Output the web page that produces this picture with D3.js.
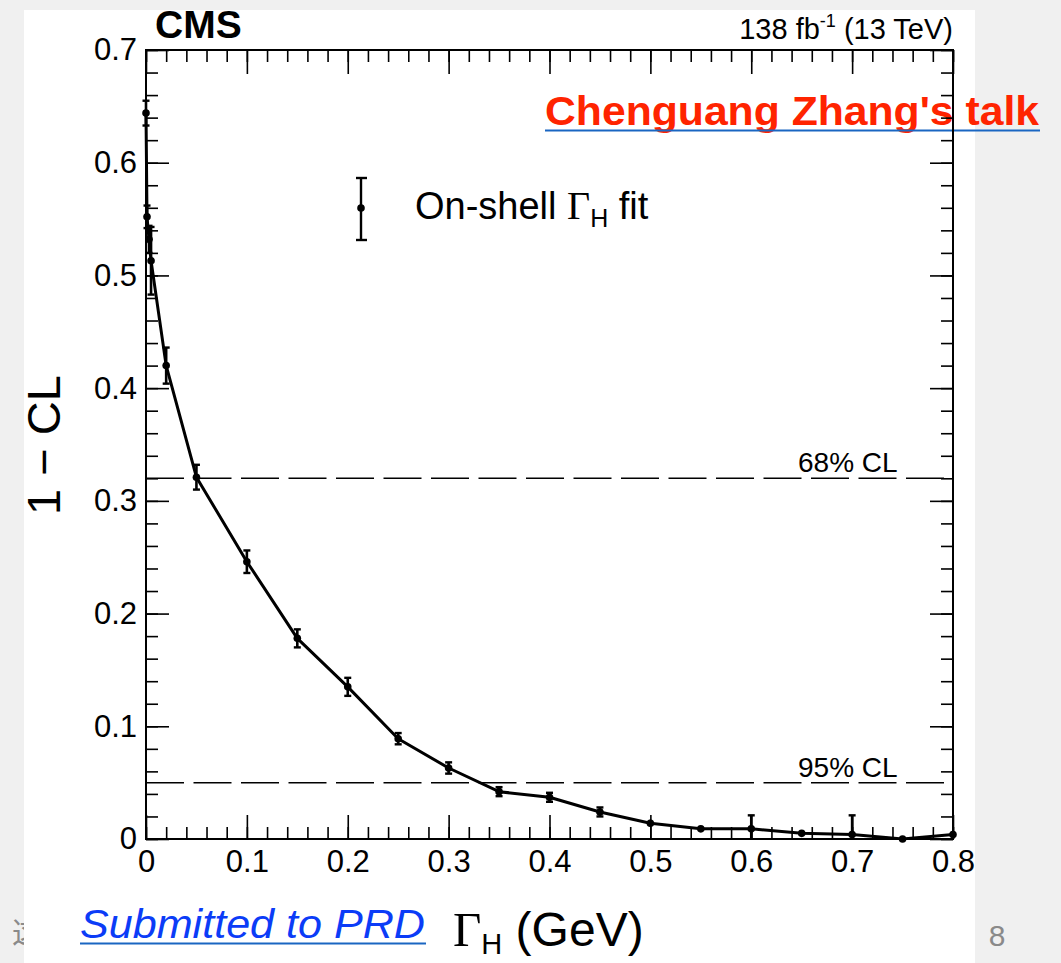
<!DOCTYPE html>
<html>
<head>
<meta charset="utf-8">
<script src="https://cdn.jsdelivr.net/npm/d3@7"></script>
<style>
  html, body { margin: 0; padding: 0; background: #f0f0f0; }
  svg { display: block; }
</style>
</head>
<body>
<svg id="chart" width="1061" height="963"></svg>
<script>
// Scan of 1 - CL versus the Higgs boson width (on-shell fit)
const widthGeV = [0, 0.001, 0.003, 0.005, 0.02, 0.05, 0.1, 0.15, 0.2, 0.25, 0.3,
                  0.35, 0.4, 0.45, 0.5, 0.55, 0.6, 0.65, 0.7, 0.75, 0.8];
const oneMinusCL = [0.644, 0.552, 0.532, 0.513, 0.420, 0.321, 0.246, 0.178, 0.135, 0.089, 0.063,
                    0.042, 0.037, 0.024, 0.014, 0.009, 0.009, 0.005, 0.004, 0.000, 0.004];
const errors = [0.011, 0.010, 0.012, 0.030, 0.016, 0.011, 0.010, 0.008, 0.008, 0.005, 0.005,
                0.004, 0.004, 0.004, 0.003, 0.002, 0.012, 0.002, 0.017, 0.002, 0.003];

const xTickValues = [0, 0.1, 0.2, 0.3, 0.4, 0.5, 0.6, 0.7, 0.8];
const xTickLabels = ["0", "0.1", "0.2", "0.3", "0.4", "0.5", "0.6", "0.7", "0.8"];
const yTickValues = [0, 0.1, 0.2, 0.3, 0.4, 0.5, 0.6, 0.7];
const yTickLabels = ["0", "0.1", "0.2", "0.3", "0.4", "0.5", "0.6", "0.7"];

const clLevels = [0.32, 0.05];
const clLabels = ["68% CL", "95% CL"];

const svg = d3.select("#chart");
const SANS = "'Liberation Sans', Arial, Helvetica, sans-serif";
const SERIF = "'Liberation Serif', 'Times New Roman', serif";

// slide chrome: gray backdrop, stray glyph at the edge, white panel
svg.append("rect").attr("width", 1061).attr("height", 963).attr("fill", "#f0f0f0");
svg.append("text").attr("x", 12).attr("y", 943)
  .attr("font-family", "'Noto Sans CJK SC', sans-serif").attr("font-size", 30)
  .attr("fill", "#8a8a8a").text("这");
svg.append("rect").attr("x", 24).attr("y", 10).attr("width", 951).attr("height", 953).attr("fill", "#fff");
svg.append("text").attr("x", 997).attr("y", 946).attr("text-anchor", "middle")
  .attr("font-family", SANS).attr("font-size", 30).attr("fill", "#8a8a8a").text("8");

const x = d3.scaleLinear().domain([0, 0.8]).range([146, 953]);
const y = d3.scaleLinear().domain([0, 0.7]).range([839, 50]);

// talk link (drawn beneath the frame)
svg.append("text").attr("x", 545).attr("y", 125)
  .attr("font-family", SANS).attr("font-weight", "bold").attr("font-size", 40)
  .attr("fill", "#ff2400").attr("textLength", 494).attr("lengthAdjust", "spacingAndGlyphs")
  .text("Chenguang Zhang's talk");
svg.append("line").attr("x1", 545).attr("x2", 1040).attr("y1", 130.5).attr("y2", 130.5)
  .attr("stroke", "#1a66c2").attr("stroke-width", 2);

const plot = svg.append("g");

// confidence-level reference lines
clLevels.forEach((v, i) => {
  plot.append("line")
    .attr("x1", x(0)).attr("x2", x(0.8)).attr("y1", y(v)).attr("y2", y(v))
    .attr("stroke", "#000").attr("stroke-width", 1.5).attr("stroke-dasharray", "38,9.5");
  plot.append("text").attr("x", 798).attr("y", y(v) - 6)
    .attr("font-family", SANS).attr("font-size", 28).attr("fill", "#000")
    .text(clLabels[i]);
});

// axes: major and minor ticks on all four sides, pointing inward
function minorValues(step, max) {
  const out = [];
  for (let i = 0; i * step <= max + 1e-9; i++) out.push(+(i * step).toFixed(4));
  return out;
}
const xMinor = minorValues(0.02, 0.8);
const yMinor = minorValues(0.02, 0.7);

const axes = svg.append("g").attr("font-family", SANS);

function styleAxis(g) {
  g.select(".domain").remove();
  g.selectAll(".tick line").attr("stroke", "#000").attr("stroke-width", 1.6);
  g.selectAll(".tick text").attr("font-family", SANS).attr("font-size", 31).attr("fill", "#000");
}

axes.append("g").attr("transform", "translate(0,839)")
  .call(d3.axisBottom(x).tickValues(xMinor).tickSize(-12).tickFormat(""))
  .call(styleAxis);
axes.append("g").attr("transform", "translate(0,839)")
  .call(d3.axisBottom(x).tickValues(xTickValues).tickSize(-24).tickPadding(11)
    .tickFormat((d, i) => xTickLabels[i]))
  .call(styleAxis);
axes.append("g").attr("transform", "translate(0,50)")
  .call(d3.axisTop(x).tickValues(xMinor).tickSize(-12).tickFormat(""))
  .call(styleAxis);
axes.append("g").attr("transform", "translate(0,50)")
  .call(d3.axisTop(x).tickValues(xTickValues).tickSize(-24).tickFormat(""))
  .call(styleAxis);

axes.append("g").attr("transform", "translate(146,0)")
  .call(d3.axisLeft(y).tickValues(yMinor).tickSize(-12).tickFormat(""))
  .call(styleAxis);
axes.append("g").attr("transform", "translate(146,0)")
  .call(d3.axisLeft(y).tickValues(yTickValues).tickSize(-23).tickPadding(9)
    .tickFormat((d, i) => yTickLabels[i]))
  .call(styleAxis);
axes.append("g").attr("transform", "translate(953,0)")
  .call(d3.axisRight(y).tickValues(yMinor).tickSize(-12).tickFormat(""))
  .call(styleAxis);
axes.append("g").attr("transform", "translate(953,0)")
  .call(d3.axisRight(y).tickValues(yTickValues).tickSize(-23).tickFormat(""))
  .call(styleAxis);

// frame
svg.append("rect").attr("x", 146).attr("y", 50).attr("width", 807).attr("height", 789)
  .attr("fill", "none").attr("stroke", "#000").attr("stroke-width", 2);

// data: line and error bars clipped to the frame, markers on top
svg.append("clipPath").attr("id", "plotClip")
  .append("rect").attr("x", 140).attr("y", 50).attr("width", 820).attr("height", 789);
const data = widthGeV.map((w, i) => ({ w, v: oneMinusCL[i], e: errors[i] }));
const dg = svg.append("g").attr("clip-path", "url(#plotClip)");

dg.append("path").datum(data)
  .attr("d", d3.line().x(d => x(d.w)).y(d => y(d.v)))
  .attr("fill", "none").attr("stroke", "#000").attr("stroke-width", 3)
  .attr("stroke-linejoin", "round");

const bars = dg.selectAll("g.err").data(data).join("g").attr("class", "err");
bars.append("line")
  .attr("x1", d => x(d.w)).attr("x2", d => x(d.w))
  .attr("y1", d => y(d.v + d.e)).attr("y2", d => y(d.v - d.e))
  .attr("stroke", "#000").attr("stroke-width", 2.6);
bars.filter(d => d.e >= 0.004).selectAll("line.cap")
  .data(d => [d.v + d.e, d.v - d.e].map(v => ({ w: d.w, v })))
  .join("line").attr("class", "cap")
  .attr("x1", d => x(d.w) - 3.5).attr("x2", d => x(d.w) + 3.5)
  .attr("y1", d => y(d.v)).attr("y2", d => y(d.v))
  .attr("stroke", "#000").attr("stroke-width", 2.4);
svg.append("g").selectAll("circle.pt").data(data).join("circle").attr("class", "pt")
  .attr("cx", d => x(d.w)).attr("cy", d => y(d.v)).attr("r", 3.8).attr("fill", "#000");

// legend
const lg = svg.append("g");
lg.append("line").attr("x1", 361).attr("x2", 361).attr("y1", 178).attr("y2", 240)
  .attr("stroke", "#000").attr("stroke-width", 2.4);
[178, 240].forEach(yy => lg.append("line").attr("x1", 356).attr("x2", 367)
  .attr("y1", yy).attr("y2", yy).attr("stroke", "#000").attr("stroke-width", 2.4));
lg.append("circle").attr("cx", 361).attr("cy", 208).attr("r", 3.8).attr("fill", "#000");
const lt = lg.append("text").attr("x", 415).attr("y", 219)
  .attr("font-family", SANS).attr("font-size", 38).attr("fill", "#000");
lt.append("tspan").text("On-shell ");
lt.append("tspan").attr("font-family", SERIF).attr("font-size", 40).text("Γ");
lt.append("tspan").attr("font-size", 25).attr("dy", 8).text("H");
lt.append("tspan").attr("dy", -8).text(" fit");

// header texts
svg.append("text").attr("x", 155).attr("y", 38)
  .attr("font-family", SANS).attr("font-weight", "bold").attr("font-size", 39)
  .attr("fill", "#000").text("CMS");
const lumi = svg.append("text").attr("x", 953).attr("y", 39).attr("text-anchor", "end")
  .attr("font-family", SANS).attr("font-size", 29).attr("fill", "#000");
lumi.append("tspan").text("138 fb");
lumi.append("tspan").attr("font-size", 18).attr("dy", -12).text("-1");
lumi.append("tspan").attr("dy", 12).text(" (13 TeV)");

// axis titles
svg.append("text")
  .attr("transform", "translate(60,445) rotate(-90)")
  .attr("text-anchor", "middle")
  .attr("font-family", SANS).attr("font-size", 47).attr("fill", "#000")
  .text("1 \u2212 CL");
const xt = svg.append("text").attr("x", 453).attr("y", 946)
  .attr("font-family", SANS).attr("font-size", 48).attr("fill", "#000");
xt.append("tspan").attr("font-family", SERIF).attr("font-size", 49).text("Γ");
xt.append("tspan").attr("font-size", 29).attr("dy", 8).text("H");
xt.append("tspan").attr("dy", -8).text(" (GeV)");

// journal link
svg.append("text").attr("x", 80).attr("y", 938)
  .attr("font-family", SANS).attr("font-style", "italic").attr("font-size", 40)
  .attr("fill", "#0b3cf7").attr("textLength", 345).attr("lengthAdjust", "spacingAndGlyphs")
  .text("Submitted to PRD");
svg.append("line").attr("x1", 80).attr("x2", 426).attr("y1", 943.5).attr("y2", 943.5)
  .attr("stroke", "#1a66c2").attr("stroke-width", 2);
</script>
</body>
</html>
